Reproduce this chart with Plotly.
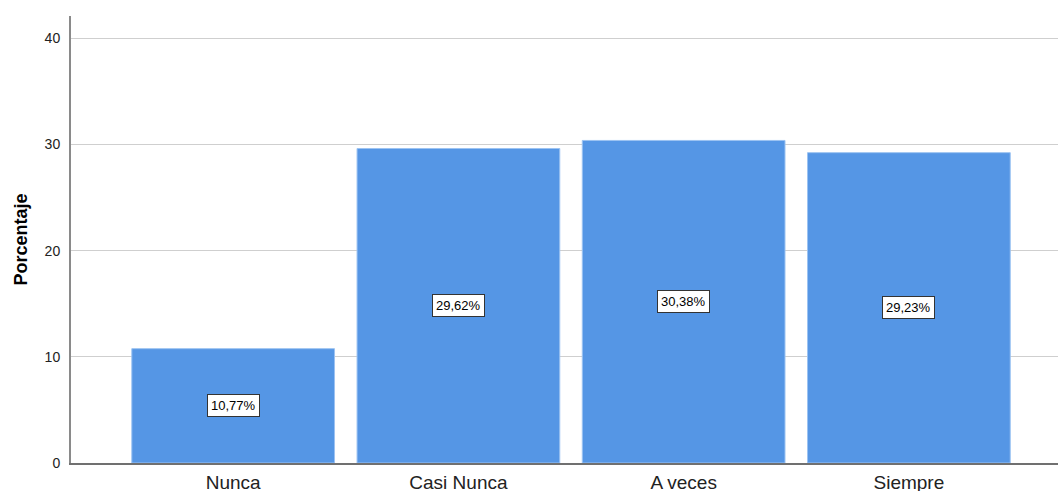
import plotly.graph_objects as go

categorias = ["Nunca", "Casi Nunca", "A veces", "Siempre"]
porcentajes = [10.77, 29.62, 30.38, 29.23]
etiquetas = ["10,77%", "29,62%", "30,38%", "29,23%"]
y_ticks = [0, 10, 20, 30, 40]

fig = go.Figure()
fig.add_trace(go.Bar(
    x=categorias,
    y=porcentajes,
    width=0.9,
    marker=dict(color="#5596E5", line=dict(color="#9CC3F2", width=1)),
    hoverinfo="skip",
))

# value labels centred in each bar, in white boxes
for cat, val, txt in zip(categorias, porcentajes, etiquetas):
    fig.add_annotation(
        x=cat, y=val / 2, text=txt, showarrow=False,
        font=dict(family="Arial, Liberation Sans", size=13, color="#000000"),
        bgcolor="#FFFFFF", bordercolor="#333333", borderwidth=1, borderpad=3,
    )

fig.update_layout(
    width=1058, height=491,
    margin=dict(l=71, r=0, t=16, b=28, autoexpand=False),
    paper_bgcolor="#FFFFFF", plot_bgcolor="#FFFFFF",
    showlegend=False,
    bargap=0.1,
    xaxis=dict(
        type="category",
        range=[-0.72, 3.662],
        automargin=False,
        showgrid=False,
        showline=True, linecolor="#707070", linewidth=2,
        ticks="outside", ticklen=1, tickcolor="rgba(0,0,0,0)",
        tickfont=dict(family="Arial, Liberation Sans", size=19, color="#222222"),
        zeroline=False,
    ),
    yaxis=dict(
        range=[0, 42.1],
        tickvals=y_ticks,
        automargin=False,
        showgrid=True, gridcolor="#CFCFCF", gridwidth=1,
        showline=True, linecolor="#8A8A8A", linewidth=2,
        ticks="", ticklabelstandoff=6,
        tickfont=dict(family="Arial, Liberation Sans", size=14, color="#222222"),
        zeroline=False,
        title=dict(text="<b>Porcentaje</b>",
                   font=dict(family="Arial, Liberation Sans", size=18, color="#000000"),
                   standoff=12),
    ),
)

fig.write_html("out.html")
